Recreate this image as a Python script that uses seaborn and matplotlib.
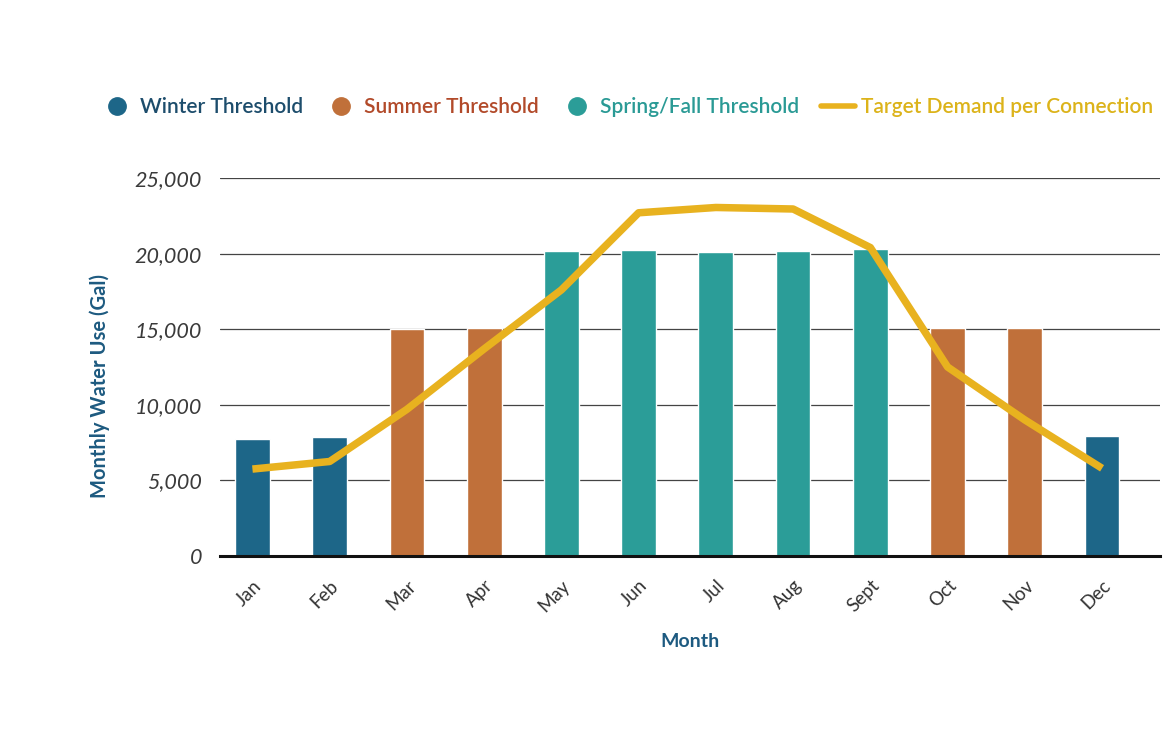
import matplotlib
matplotlib.use("Agg")
import matplotlib.pyplot as plt
from matplotlib.lines import Line2D
from matplotlib.ticker import FuncFormatter
import seaborn as sns
import pandas as pd

months = ["Jan", "Feb", "Mar", "Apr", "May", "Jun", "Jul", "Aug", "Sept", "Oct", "Nov", "Dec"]
seasons = ["Winter", "Winter", "Summer", "Summer", "Spring/Fall", "Spring/Fall",
           "Spring/Fall", "Spring/Fall", "Spring/Fall", "Summer", "Summer", "Winter"]
threshold_gal = [7750, 7900, 15000, 15050, 20150, 20250, 20100, 20150, 20300, 15050, 15100, 7950]
target_gal = [5750, 6250, 9700, 13700, 17600, 22700, 23050, 22950, 20400, 12500, 9000, 5800]

season_colors = {"Winter": "#1d6688", "Summer": "#c0703a", "Spring/Fall": "#2b9d98"}
legend_text_colors = ["#1d4d6c", "#b24a2a", "#2a9a95", "#dcb31a"]
line_color = "#e8b21f"
navy = "#1d5a80"

sns.set_theme(style="white")
plt.rcParams["font.family"] = ["Lato", "DejaVu Sans"]

df = pd.DataFrame({"Month": months, "Season": seasons, "Threshold": threshold_gal, "Target": target_gal})

fig = plt.figure(figsize=(11.64, 7.40), dpi=100)
fig.patch.set_facecolor("white")
ax = fig.add_axes([220 / 1164, 1 - 556 / 740, 940 / 1164, 378 / 740])
ax.set_facecolor("none")

sns.barplot(data=df, x="Month", y="Threshold", hue="Season", palette=season_colors,
            dodge=False, width=0.45, saturation=1, legend=False, ax=ax, zorder=2)
sns.lineplot(x=list(range(len(months))), y=target_gal, color=line_color, linewidth=5.4,
             sort=False, ax=ax, zorder=3, solid_joinstyle="round", solid_capstyle="butt")

ax.set_xlim(-0.42, 11.75)
ax.set_ylim(0, 25000)
ax.set_yticks(range(0, 25001, 5000))
ax.yaxis.set_major_formatter(FuncFormatter(lambda v, p: f"{int(v):,}"))
ax.grid(axis="y", color="#444444", linewidth=0.9, zorder=0)
ax.set_axisbelow(True)
for s in ["left", "right", "top"]:
    ax.spines[s].set_visible(False)
ax.spines["bottom"].set_color("#111111")
ax.spines["bottom"].set_linewidth(2.2)
ax.spines["bottom"].set_zorder(4)

ax.tick_params(axis="y", length=0, pad=13, labelsize=15.5, labelcolor="#3a3a3a")
ax.tick_params(axis="x", length=0, pad=15, labelsize=13.5, labelcolor="#333333")
for t in ax.get_yticklabels():
    t.set_fontstyle("italic")
ax.set_xticks(range(len(months)))
ax.set_xticklabels(months, rotation=45, ha="right", rotation_mode="anchor")

ax.set_xlabel("Month", fontsize=14, color=navy, fontweight="bold", labelpad=13)
ax.set_ylabel("Monthly Water Use (Gal)", fontsize=14.5, color=navy, fontweight="bold")
ax.yaxis.set_label_coords(-0.117, 0.45)

handles = [
    Line2D([], [], marker="o", linestyle="none", markersize=12.5, color=season_colors["Winter"]),
    Line2D([], [], marker="o", linestyle="none", markersize=12.5, color=season_colors["Summer"]),
    Line2D([], [], marker="o", linestyle="none", markersize=12.5, color=season_colors["Spring/Fall"]),
    Line2D([], [], color=line_color, linewidth=4),
]
labels = ["Winter Threshold", "Summer Threshold", "Spring/Fall Threshold", "Target Demand per Connection"]
leg = fig.legend(handles, labels, ncol=4, loc="center left", bbox_to_anchor=(100 / 1164, 1 - 107 / 740),
                 frameon=False, fontsize=15, handlelength=1.6, handletextpad=0.3,
                 columnspacing=1.05, borderaxespad=0, borderpad=0)
for txt, c in zip(leg.get_texts(), legend_text_colors):
    txt.set_color(c)
    txt.set_fontweight("semibold")

fig.savefig("out.png", dpi=100, facecolor=fig.get_facecolor())
